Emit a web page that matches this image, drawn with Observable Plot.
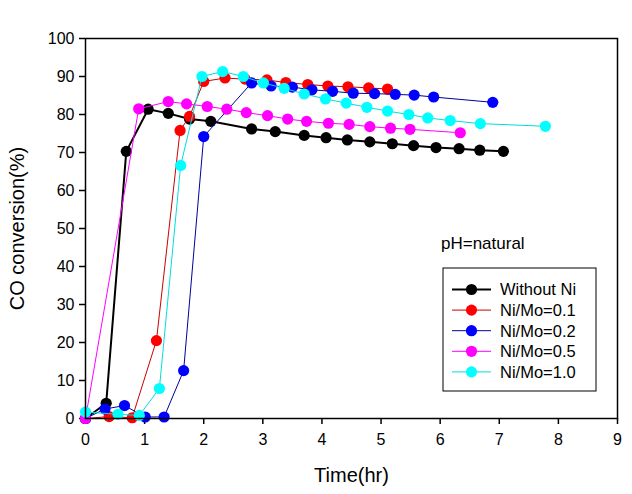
<!DOCTYPE html>
<html>
<head>
<meta charset="utf-8">
<script src="https://cdn.jsdelivr.net/npm/d3@7"></script>
<script src="https://cdn.jsdelivr.net/npm/@observablehq/plot@0.6"></script>
<style>
  html, body { margin: 0; padding: 0; background: #fff; }
  #chart { width: 632px; height: 494px; }
</style>
</head>
<body>
<div id="chart"></div>
<script>
// ---- data ----
const seriesNames = ["Without Ni", "Ni/Mo=0.1", "Ni/Mo=0.2", "Ni/Mo=0.5", "Ni/Mo=1.0"];
const dotColors  = ["#000000", "#ff0000", "#0000ff", "#ff00ff", "#00ffff"];
const lineColors = ["#000000", "#cc0000", "#000099", "#ff00ff", "#00dddd"];

const blackT = [0, 0.35, 0.69, 1.06, 1.40, 1.76, 2.12, 2.81, 3.21, 3.70, 4.07, 4.43, 4.81, 5.19, 5.55, 5.93, 6.32, 6.67, 7.07];
const blackY = [0, 4.0, 70.3, 81.4, 80.3, 78.8, 78.2, 76.2, 75.5, 74.5, 73.9, 73.3, 72.8, 72.3, 71.8, 71.3, 71.0, 70.6, 70.3];

const redT = [0, 0.40, 0.79, 1.20, 1.60, 1.76, 2.00, 2.36, 2.70, 3.07, 3.39, 3.76, 4.10, 4.44, 4.79, 5.11];
const redY = [0, 0.5, 0.2, 20.5, 75.8, 79.5, 88.7, 89.6, 89.3, 89.1, 88.4, 87.9, 87.5, 87.3, 87.0, 86.7];

const blueT = [0, 0.33, 0.66, 1.01, 1.33, 1.66, 2.00, 2.81, 3.14, 3.50, 3.83, 4.18, 4.53, 4.89, 5.24, 5.56, 5.89, 6.89];
const blueY = [0, 2.5, 3.4, 0.4, 0.4, 12.6, 74.2, 88.3, 87.5, 87.2, 86.5, 86.1, 85.6, 85.5, 85.3, 85.1, 84.6, 83.2];

const magentaT = [0, 0.90, 1.40, 1.71, 2.06, 2.39, 2.72, 3.08, 3.42, 3.74, 4.11, 4.46, 4.81, 5.16, 5.49, 6.34];
const magentaY = [0, 81.5, 83.4, 82.8, 82.1, 81.4, 80.5, 79.7, 78.8, 78.2, 77.7, 77.4, 76.8, 76.4, 76.1, 75.2];

const cyanT = [0, 0.55, 0.91, 1.25, 1.61, 1.97, 2.32, 2.67, 3.01, 3.36, 3.70, 4.06, 4.41, 4.76, 5.11, 5.47, 5.79, 6.17, 6.68, 7.78];
const cyanY = [1.7, 1.1, 0.8, 7.9, 66.6, 90.0, 91.3, 90.0, 88.3, 86.9, 85.4, 84.1, 83.0, 81.9, 80.9, 80.0, 79.1, 78.4, 77.6, 76.9];

const xTicks = [0, 1, 2, 3, 4, 5, 6, 7, 8, 9];
const yTicks = [0, 10, 20, 30, 40, 50, 60, 70, 80, 90, 100];
const xTitle = "Time(hr)";
const yTitle = "CO conversion(%)";
const noteText = "pH=natural";

// ---- build tables ----
const allT = [blackT, redT, blueT, magentaT, cyanT];
const allY = [blackY, redY, blueY, magentaY, cyanY];
const series = seriesNames.map((name, i) => ({
  name, dot: dotColors[i], line: lineColors[i], width: i === 0 ? 2 : 1,
  data: allT[i].map((t, j) => ({t, v: allY[i][j]}))
}));

const font = "'Liberation Sans', Arial, sans-serif";

const marks = [];
for (const s of series) {
  marks.push(Plot.line(s.data, {x: "t", y: "v", stroke: s.line, strokeWidth: s.width}));
  marks.push(Plot.dot(s.data, {x: "t", y: "v", r: 5.6, fill: s.dot, stroke: "none"}));
}

const chart = Plot.plot({
  width: 632,
  height: 494,
  marginLeft: 85,
  marginRight: 15,
  marginTop: 38,
  marginBottom: 76,
  style: {fontFamily: font, fontSize: "16px", color: "#000", background: "#fff", overflow: "visible"},
  x: {domain: [0, 9]},
  y: {domain: [0, 100]},
  marks: [
    Plot.axisX({ticks: xTicks, tickSize: 6, tickPadding: 9, label: null, fontSize: 16, strokeWidth: 1.5}),
    Plot.axisY({ticks: yTicks, tickSize: 6, tickPadding: 5, label: null, fontSize: 16, strokeWidth: 1.5}),
    ...marks,
    Plot.frame({stroke: "#000", strokeWidth: 1.5}),
    Plot.text([xTitle], {frameAnchor: "bottom", dy: 57, textAnchor: "middle", lineAnchor: "middle", fontSize: 20, fill: "#000"}),
    Plot.text([yTitle], {frameAnchor: "left", dx: -68, rotate: -90, textAnchor: "middle", lineAnchor: "middle", fontSize: 20, fill: "#000"})
  ]
});

document.getElementById("chart").appendChild(chart);

// ---- legend (drawn in the svg) ----
const svg = d3.select(chart);
const lg = svg.append("g").attr("font-family", font).attr("text-anchor", "start");
lg.append("text").attr("x", 441).attr("y", 249).attr("font-size", 17).attr("fill", "#000").text(noteText);
lg.append("rect").attr("x", 443).attr("y", 268).attr("width", 153).attr("height", 123)
  .attr("fill", "#fff").attr("stroke", "#000").attr("stroke-width", 1);
series.forEach((s, i) => {
  const y = 289.5 + i * 20.6;
  lg.append("line").attr("x1", 452).attr("x2", 491).attr("y1", y).attr("y2", y)
    .attr("stroke", s.line).attr("stroke-width", s.width);
  lg.append("circle").attr("cx", 471.5).attr("cy", y).attr("r", 5.6).attr("fill", s.dot);
  lg.append("text").attr("x", 500).attr("y", y).attr("dy", "0.36em").attr("font-size", 16.5)
    .attr("fill", "#000").text(s.name);
});
</script>
</body>
</html>
